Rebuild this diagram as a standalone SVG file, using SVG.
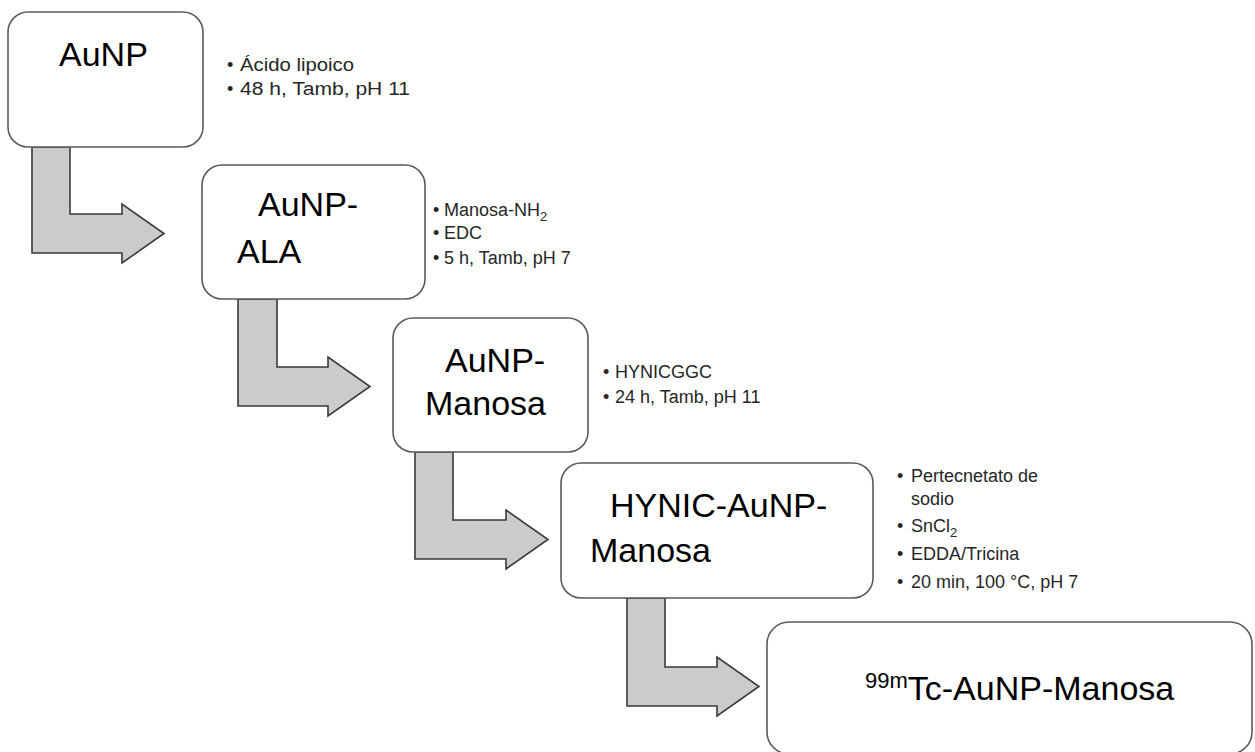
<svg xmlns="http://www.w3.org/2000/svg" width="1255" height="752" viewBox="0 0 1255 752">
<style>
.box{fill:#fff;stroke:#5a5a5a;stroke-width:1.6}
.arr{fill:#cbcbcb;stroke:#3a3a3a;stroke-width:1.6;stroke-linejoin:miter}
.big{font-family:"Liberation Sans",Arial,sans-serif;font-size:34px;fill:#000}
.sm{font-family:"Liberation Sans",Arial,sans-serif;font-size:18px;fill:#262626}
.sup{font-family:"Liberation Sans",Arial,sans-serif;font-size:22px;fill:#000}
</style>
<rect width="1255" height="752" fill="#fff"/>
<g id="connectors">
<polygon class="arr" points="32,147 70,147 70,214 122,214 122,204 164,233.5 122,263 122,253 32,253"/>
<polygon class="arr" points="238,299 277,299 277,367 328,367 328,357 370,386.5 328,416 328,406 238,406"/>
<polygon class="arr" points="415,452 453,452 453,520 506,520 506,510 548,539.5 506,569 506,559 415,559"/>
<polygon class="arr" points="627,598 665,598 665,667 717,667 717,657 759,686.5 717,716 717,706 627,706"/>
</g>
<g id="n1">
<rect class="box" x="8" y="12" width="195" height="135" rx="20"/>
<text class="big" x="59" y="66">AuNP</text>
</g>
<g id="c1">
<text class="sm" x="227" y="71">•</text><text class="sm" x="240" y="71" font-size="19" textLength="114" lengthAdjust="spacingAndGlyphs">Ácido lipoico</text>
<text class="sm" x="227" y="95">•</text><text class="sm" x="240" y="95" font-size="19" textLength="170" lengthAdjust="spacingAndGlyphs">48 h, Tamb, pH 11</text>
</g>
<g id="n2">
<rect class="box" x="202" y="165" width="223" height="134" rx="20"/>
<text class="big" x="258" y="216">AuNP-</text>
<text class="big" x="237" y="263">ALA</text>
</g>
<g id="c2">
<text class="sm" x="433" y="216">•</text><text class="sm" x="444" y="216">Manosa-NH<tspan font-size="13" dy="5">2</tspan></text>
<text class="sm" x="433" y="239">•</text><text class="sm" x="444" y="239">EDC</text>
<text class="sm" x="433" y="264">•</text><text class="sm" x="444" y="264">5 h, Tamb, pH 7</text>
</g>
<g id="n3">
<rect class="box" x="393" y="318" width="195" height="134" rx="20"/>
<text class="big" x="445" y="372">AuNP-</text>
<text class="big" x="425" y="415">Manosa</text>
</g>
<g id="c3">
<text class="sm" x="603" y="378">•</text><text class="sm" x="615" y="378">HYNICGGC</text>
<text class="sm" x="603" y="403">•</text><text class="sm" x="615" y="403">24 h, Tamb, pH 11</text>
</g>
<g id="n4">
<rect class="box" x="561" y="463" width="312" height="135" rx="20"/>
<text class="big" x="610" y="517">HYNIC-AuNP-</text>
<text class="big" x="590" y="562">Manosa</text>
</g>
<g id="c4">
<text class="sm" x="897" y="482">•</text><text class="sm" x="911" y="482">Pertecnetato de</text>
<text class="sm" x="911" y="505">sodio</text>
<text class="sm" x="897" y="532">•</text><text class="sm" x="911" y="532">SnCl<tspan font-size="13" dy="5">2</tspan></text>
<text class="sm" x="897" y="560">•</text><text class="sm" x="911" y="560">EDDA/Tricina</text>
<text class="sm" x="897" y="588">•</text><text class="sm" x="911" y="588">20 min, 100 °C, pH 7</text>
</g>
<g id="n5">
<rect class="box" x="767" y="622" width="485" height="132" rx="22"/>
<text x="865" y="700"><tspan class="sup" dy="-12">99m</tspan><tspan class="big" dy="12">Tc-AuNP-Manosa</tspan></text>
</g>
</svg>
